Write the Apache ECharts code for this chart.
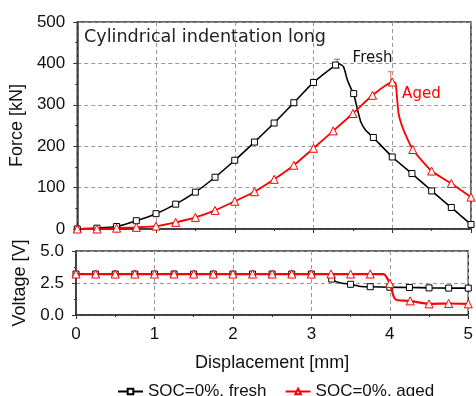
<!DOCTYPE html>
<html><head><meta charset="utf-8">
<script src="https://cdn.jsdelivr.net/npm/echarts@6/dist/echarts.min.js"></script>
<style>html,body{margin:0;padding:0;background:#fff}#c{width:476px;height:396px}</style>
</head><body><div id="c"></div>
<script>
// Force vs displacement
const freshX = [0,0.25,0.5,0.75,1,1.25,1.5,1.75,2,2.25,2.5,2.75,3,3.28,3.32,3.38,3.43,3.48,3.51,3.55,3.6,3.66,3.76,4,4.25,4.5,4.75,5];
const freshF = [0,2,6,20,37,60,89,125,166,210,256,305,354,396,399,392,360,338,327,295,259,239,221,174,134,92,52,11];
const freshFMark = [1,1,1,1,1,1,1,1,1,1,1,1,1,1,0,0,0,0,1,0,0,0,1,1,1,1,1,1];
const agedX = [0,0.25,0.5,0.75,1,1.25,1.5,1.75,2,2.25,2.5,2.75,3,3.25,3.5,3.75,4,4.04,4.06,4.08,4.12,4.18,4.26,4.5,4.75,5];
const agedF = [0,0,2,4,7,16,28,45,67,90,120,154,195,237,279,323,355,353,319,279,251,223,192,140,110,77];
const agedFMark = [1,1,1,1,1,1,1,1,1,1,1,1,1,1,1,1,1,0,0,0,0,0,1,1,1,1];
// Voltage vs displacement
const freshVX = [0,0.25,0.5,0.75,1,1.25,1.5,1.75,2,2.25,2.5,2.75,3,3.22,3.26,3.36,3.5,3.64,3.75,4,4.25,4.5,4.75,5];
const freshV = [3.2,3.2,3.2,3.2,3.2,3.2,3.2,3.2,3.2,3.2,3.2,3.2,3.2,3.2,2.81,2.52,2.4,2.23,2.21,2.17,2.15,2.12,2.1,2.1];
const freshVMark = [1,1,1,1,1,1,1,1,1,1,1,1,1,0,1,0,1,0,1,1,1,1,1,1];
const agedVX = [0,0.25,0.5,0.75,1,1.25,1.5,1.75,2,2.25,2.5,2.75,3,3.25,3.5,3.75,3.92,4,4.04,4.06,4.1,4.26,4.5,4.75,5];
const agedV = [3.2,3.2,3.2,3.2,3.2,3.2,3.2,3.2,3.2,3.2,3.2,3.2,3.2,3.2,3.2,3.2,3.2,2.47,1.6,1.3,1.15,1.1,0.87,0.9,0.87];
const agedVMark = [1,1,1,1,1,1,1,1,1,1,1,1,1,1,1,1,0,1,0,0,0,1,1,1,1];
// Error bars at peaks: [x, low, high]
const freshErr = [[3.3, 389, 410]];
const agedErr = [[3.98, 352, 380]];
// Annotations
const noteX = [3.75, 4.37];
const noteY = [413, 326];
const noteText = ['Fresh', 'Aged'];
const xTicks = [0, 1, 2, 3, 4, 5];
const forceTicks = [0, 100, 200, 300, 400, 500];
const voltTicks = [0.0, 2.5, 5.0];
const titleText = 'Cylindrical indentation long';
const nameFresh = 'SOC=0%, fresh';
const nameAged = 'SOC=0%, aged';

function pts(xs, ys, marks) {
  return xs.map((x, i) => marks[i] ? [x, ys[i]] : {value: [x, ys[i]], symbol: 'none'});
}
const FONT = 'Liberation Sans';
const axisBase = (grid) => ({
  gridIndex: grid,
  axisLine: {lineStyle: {color: '#333', width: 1.5}},
  axisTick: {show: true, inside: false, length: 4, lineStyle: {color: '#333', width: 1}},
  minorTick: {show: true, splitNumber: 2, length: 2, lineStyle: {color: '#333'}},
  splitLine: {show: true, lineStyle: {type: [4, 3], color: '#999', width: 1}},
  axisLabel: {fontFamily: FONT, fontSize: 17, color: '#111'}
});
function errRender(color) {
  return function (params, api) {
    const lo = api.coord([api.value(0), api.value(1)]);
    const hi = api.coord([api.value(0), api.value(2)]);
    const s = {stroke: color, lineWidth: 1.2};
    return {type: 'group', children: [
      {type: 'line', shape: {x1: lo[0], y1: lo[1], x2: hi[0], y2: hi[1]}, style: s},
      {type: 'line', shape: {x1: lo[0]-3, y1: lo[1], x2: lo[0]+3, y2: lo[1]}, style: s},
      {type: 'line', shape: {x1: hi[0]-3, y1: hi[1], x2: hi[0]+3, y2: hi[1]}, style: s}
    ]};
  };
}
const chart = echarts.init(document.getElementById('c'), null, {renderer: 'canvas'});
chart.setOption({
  animation: false,
  backgroundColor: '#fff',
  title: {text: titleText, left: 79, top: 23, textStyle: {fontFamily: 'DejaVu Sans', fontSize: 17.6, fontWeight: 'normal', color: '#222'}},
  legend: {
    data: [nameFresh, nameAged], left: 112, top: 378, itemWidth: 25, itemHeight: 7, itemGap: 18,
    textStyle: {fontFamily: FONT, fontSize: 17, color: '#111'}
  },
  grid: [
    {left: 76, right: 5, top: 22, height: 207, show: true, borderColor: '#333', borderWidth: 1.5, backgroundColor: 'transparent'},
    {left: 76, right: 5, top: 251, height: 64, show: true, borderColor: '#333', borderWidth: 1.5, backgroundColor: 'transparent'}
  ],
  xAxis: [
    Object.assign(axisBase(0), {type: 'value', min: xTicks[0], max: xTicks[xTicks.length-1], interval: 1, axisLabel: {show: false}}),
    Object.assign(axisBase(1), {type: 'value', min: xTicks[0], max: xTicks[xTicks.length-1], interval: 1,
      name: 'Displacement [mm]', nameLocation: 'middle', nameGap: 39,
      nameTextStyle: {fontFamily: FONT, fontSize: 18, color: '#111'},
      axisLabel: {fontFamily: FONT, fontSize: 17, color: '#111', margin: 11}})
  ],
  yAxis: [
    Object.assign(axisBase(0), {type: 'value', min: forceTicks[0], max: forceTicks[forceTicks.length-1], interval: 100,
      name: 'Force [kN]', nameLocation: 'middle', nameGap: 39,
      nameTextStyle: {fontFamily: FONT, fontSize: 18, color: '#111'},
      axisLabel: {fontFamily: FONT, fontSize: 17, color: '#111', margin: 12}}),
    Object.assign(axisBase(1), {type: 'value', min: voltTicks[0], max: voltTicks[voltTicks.length-1], interval: 2.5,
      name: 'Voltage [V]', nameLocation: 'middle', nameGap: 39,
      nameTextStyle: {fontFamily: FONT, fontSize: 18, color: '#111'},
      axisLabel: {fontFamily: FONT, fontSize: 17, color: '#111', margin: 12, formatter: v => v.toFixed(1)}})
  ],
  series: [
    {name: nameFresh, type: 'line', xAxisIndex: 0, yAxisIndex: 0, data: pts(freshX, freshF, freshFMark),
      symbol: 'rect', symbolSize: 6, showAllSymbol: true, smooth: 0.2,
      lineStyle: {color: '#000', width: 1.6}, itemStyle: {color: '#fff', borderColor: '#000', borderWidth: 1}, z: 3},
    {name: nameAged, type: 'line', xAxisIndex: 0, yAxisIndex: 0, data: pts(agedX, agedF, agedFMark),
      symbol: 'triangle', symbolSize: 8, showAllSymbol: true, smooth: 0.2,
      lineStyle: {color: '#ff0000', width: 1.8}, itemStyle: {color: '#fff', borderColor: '#ff0000', borderWidth: 1}, z: 3},
    {name: nameFresh, type: 'line', xAxisIndex: 1, yAxisIndex: 1, data: pts(freshVX, freshV, freshVMark),
      symbol: 'rect', symbolSize: 6, showAllSymbol: true, smooth: 0.2,
      lineStyle: {color: '#000', width: 1.6}, itemStyle: {color: '#fff', borderColor: '#000', borderWidth: 1}, z: 3},
    {name: nameAged, type: 'line', xAxisIndex: 1, yAxisIndex: 1, data: pts(agedVX, agedV, agedVMark),
      symbol: 'triangle', symbolSize: 8, showAllSymbol: true, smooth: 0.2,
      lineStyle: {color: '#ff0000', width: 2.2}, itemStyle: {color: '#fff', borderColor: '#ff0000', borderWidth: 1}, z: 4},
    {type: 'custom', xAxisIndex: 0, yAxisIndex: 0, data: freshErr, renderItem: errRender('#888'), encode: {x: 0, y: [1, 2]}, z: 2},
    {type: 'custom', xAxisIndex: 0, yAxisIndex: 0, data: agedErr, renderItem: errRender('#f08080'), encode: {x: 0, y: [1, 2]}, z: 2},
    {type: 'scatter', xAxisIndex: 0, yAxisIndex: 0, symbol: 'circle', symbolSize: 1, silent: true, z: 5,
      itemStyle: {color: '#fff', opacity: 0},
      data: noteX.map((x, i) => ({value: [x, noteY[i]], label: {show: true, position: 'inside', formatter: noteText[i],
        fontFamily: 'DejaVu Sans', fontSize: 15, opacity: 1, textBorderWidth: 0, textShadowBlur: 0,
        color: i === 0 ? '#111' : '#ff0000'}}))}
  ]
});
</script></body></html>
